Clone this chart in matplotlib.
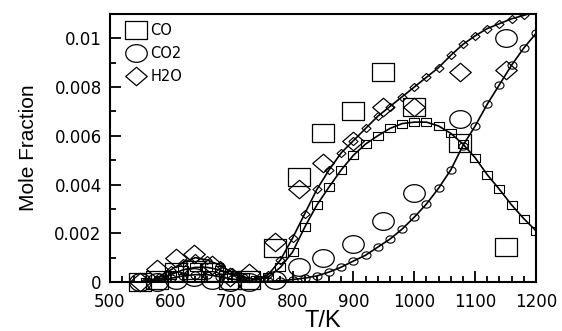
import matplotlib

matplotlib.use("Agg")
import matplotlib.pyplot as plt  # noqa: E402
import numpy as np  # noqa: E402
from matplotlib.path import Path  # noqa: E402
from matplotlib.ticker import MultipleLocator  # noqa: E402

# model curves (lines with small markers, every 20 K)
T_MODEL = [560, 580, 600, 620, 640, 660, 680, 700, 720, 740, 760, 780, 800,
           820, 840, 860, 880, 900, 920, 940, 960, 980, 1000, 1020, 1040,
           1060, 1080, 1100, 1120, 1140, 1160, 1180, 1200]
CO_MODEL = [0.0, 0.0001, 0.0003, 0.0005, 0.0006, 0.0006, 0.0005, 0.0003,
            0.0002, 0.0001, 0.0002, 0.0006, 0.00123, 0.00225, 0.00316,
            0.0039, 0.0046, 0.0052, 0.00566, 0.006, 0.0063, 0.0065, 0.00656,
            0.00656, 0.0064, 0.0061, 0.00566, 0.0051, 0.0044, 0.0038,
            0.00316, 0.0026, 0.0021]
CO2_MODEL = [0.0, 0.00005, 0.00015, 0.00025, 0.0003, 0.0003, 0.00022,
             0.00012, 0.00006, 0.00003, 0.00003, 0.00005, 0.0001, 0.00016,
             0.00025, 0.00041, 0.00061, 0.00086, 0.0011, 0.00143, 0.00176,
             0.00217, 0.00266, 0.0032, 0.00385, 0.0046, 0.0056, 0.0064,
             0.0073, 0.0081, 0.0089, 0.0096, 0.0102]
H2O_MODEL = [0.0, 0.0002, 0.0005, 0.0008, 0.001, 0.0009, 0.0007, 0.0004,
             0.0002, 0.0001, 0.0003, 0.0009, 0.0018, 0.0028, 0.0038, 0.0046,
             0.0053, 0.0058, 0.0063, 0.0068, 0.0072, 0.0076, 0.008, 0.0084,
             0.0088, 0.0093, 0.00975, 0.0101, 0.0104, 0.0106, 0.0108,
             0.01094, 0.0111]

# measurements (large open symbols)
T_EXP = [549, 577, 609, 638, 668, 698, 728, 771, 810, 850, 900, 949, 1000,
         1075, 1150]
CO_EXP = [0.0, 0.0001, 0.0004, 0.0005, 0.0004, 0.0001, 0.0001, 0.0014,
          0.0043, 0.0061, 0.0070, 0.0086, 0.0072, 0.0057, 0.00143]
CO2_EXP = [0.0, 0.0, 0.0001, 0.0002, 0.0001, 0.0, 0.0, 0.0001, 0.0006,
           0.001, 0.00156, 0.0025, 0.00365, 0.0067, 0.01]
H2O_EXP = [0.0, 0.00053, 0.001, 0.00115, 0.0007, 0.0002, 0.00037, 0.00164,
           0.0038, 0.0049, 0.0058, 0.0072, 0.0072, 0.0086, 0.0087]

SPECIES = ["CO", "CO2", "H2O"]


def _box(h):
    return Path([(-1, -h), (1, -h), (1, h), (-1, h), (-1, -h)], closed=True)


def _ellipse(h):
    a = np.linspace(0, 2 * np.pi, 60)
    return Path(np.column_stack([np.cos(a), h * np.sin(a)]), closed=True)


def _diamond(h):
    return Path([(-1, 0), (0, -h), (1, 0), (0, h), (-1, 0)], closed=True)


SHAPES = [_box(0.82), _ellipse(0.82), _diamond(0.86)]
SMALL = [_box(0.78), _ellipse(0.8), _diamond(0.9)]

fig = plt.figure(figsize=(5.62, 3.31), dpi=100)
ax = fig.add_axes([0.1957, 0.148, 0.758, 0.81])

for model, shape in zip([CO_MODEL, CO2_MODEL, H2O_MODEL], SMALL):
    ax.plot(T_MODEL, model, color="black", linewidth=1.2, marker=shape,
            markersize=6.5, markerfacecolor="none", markeredgecolor="black",
            markeredgewidth=0.8)

for exp, shape, name in zip([CO_EXP, CO2_EXP, H2O_EXP], SHAPES, SPECIES):
    ax.plot(T_EXP, exp, linestyle="none", marker=shape, markersize=15.5,
            markerfacecolor="none", markeredgecolor="black",
            markeredgewidth=0.9, clip_on=False, label=name)

ax.set_xlim(500, 1200)
ax.set_ylim(0, 0.011)
ax.xaxis.set_major_locator(MultipleLocator(100))
ax.xaxis.set_minor_locator(MultipleLocator(20))
ax.yaxis.set_major_locator(MultipleLocator(0.002))
ax.yaxis.set_minor_locator(MultipleLocator(0.001))
ax.yaxis.set_major_formatter(lambda v, pos: "0" if v == 0 else f"{v:g}")
ax.tick_params(which="both", direction="in", top=False, right=False,
               width=1.3, labelsize=12)
ax.tick_params(which="major", length=8)
ax.tick_params(which="minor", length=4.5)
ax.tick_params(axis="x", pad=8)
ax.tick_params(axis="y", pad=6)
for lab in ax.get_xticklabels() + ax.get_yticklabels():
    lab.set_family("DejaVu Sans")
for sp in ax.spines.values():
    sp.set_linewidth(1.5)

ax.set_xlabel("T/K", family="Liberation Sans", fontsize=17, labelpad=-1)
ax.set_ylabel("Mole Fraction", family="Liberation Sans", fontsize=15,
              labelpad=12)

ax.legend(loc="upper left", bbox_to_anchor=(0.016, 1.0), frameon=False,
          prop={"family": "DejaVu Sans", "size": 10.5}, handletextpad=0.3,
          labelspacing=0.55, handlelength=1.4, borderaxespad=0.2)

fig.savefig("out.png", dpi=100)
